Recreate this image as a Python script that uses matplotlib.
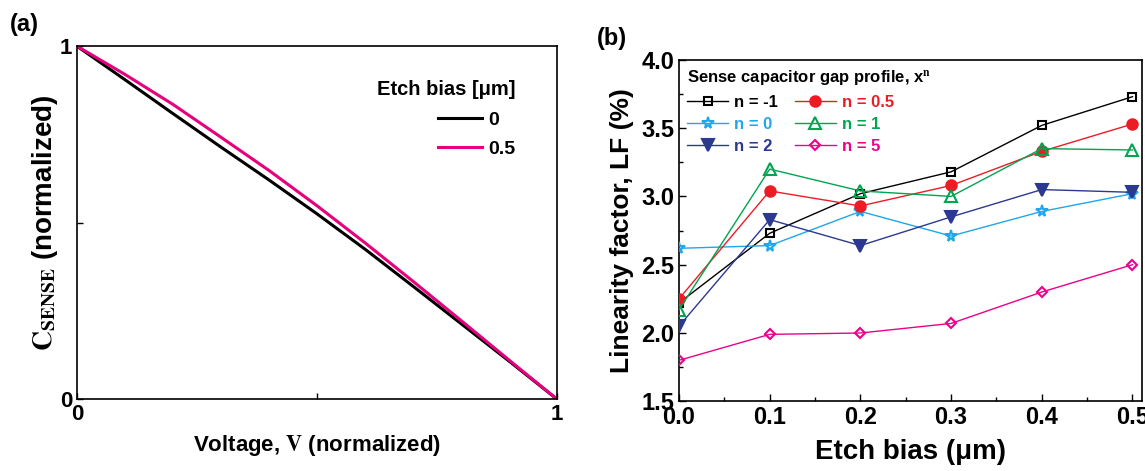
import numpy as np
import matplotlib.pyplot as plt
from matplotlib.ticker import MultipleLocator

plt.rcParams["font.family"] = ["Liberation Sans", "DejaVu Sans"]
plt.rcParams["font.weight"] = "bold"
plt.rcParams["mathtext.fontset"] = "stix"

# panel (a): normalized capacitance vs voltage
volt = [0.0, 0.1, 0.2, 0.3, 0.4, 0.5, 0.6, 0.7, 0.8, 0.9, 1.0]
c_bias0 = [1.0, 0.905, 0.809, 0.714, 0.621, 0.525, 0.425, 0.320, 0.214, 0.108, 0.0]
c_bias05 = [1.0, 0.920, 0.835, 0.742, 0.648, 0.548, 0.443, 0.334, 0.223, 0.111, 0.0]

# panel (b): linearity factor vs etch bias
etch = [0.0, 0.1, 0.2, 0.3, 0.4, 0.5]
lf_m1 = [2.22, 2.73, 3.02, 3.18, 3.52, 3.73]
lf_05 = [2.25, 3.04, 2.93, 3.08, 3.33, 3.53]
lf_0 = [2.62, 2.64, 2.89, 2.71, 2.89, 3.02]
lf_1 = [2.17, 3.20, 3.04, 3.00, 3.35, 3.34]
lf_2 = [2.05, 2.83, 2.64, 2.85, 3.05, 3.03]
lf_5 = [1.80, 1.99, 2.00, 2.07, 2.30, 2.50]

fig = plt.figure(figsize=(11.45, 4.71), dpi=100)
fig.patch.set_facecolor("white")

# ---- (a)
ax1 = fig.add_axes([0.0672, 0.153, 0.419, 0.749])
ax1.plot(volt, c_bias0, color="black", lw=2.2, label="0")
ax1.plot(volt, c_bias05, color="#e6007e", lw=2.2, label="0.5")
ax1.set_xlim(0, 1)
ax1.set_ylim(0, 1)
ax1.set_xticks([0, 0.5, 1])
ax1.set_xticklabels(["0", "", "1"])
ax1.set_yticks([0, 0.5, 1])
ax1.set_yticklabels(["0", "", "1"])
ax1.tick_params(direction="in", labelsize=16, length=4, width=1)
for s in ax1.spines.values():
    s.set_linewidth(1.2)
ax1.set_xlabel(r"Voltage, $\mathrm{V}$ (normalized)", fontsize=16, fontweight="bold", labelpad=6)
ax1.set_ylabel(r"$\mathrm{C_{SENSE}}$ (normalized)", fontsize=20, fontweight="bold", labelpad=0)
leg1 = ax1.legend(title="Etch bias [μm]", loc="upper right", bbox_to_anchor=(0.93, 0.925),
                  frameon=False, fontsize=14, title_fontsize=14.5, handlelength=2.3,
                  handletextpad=0.3, labelspacing=0.6, borderaxespad=0, alignment="right")
leg1.get_title().set_fontweight("bold")

fig.text(0.009, 0.935, "(a)", fontsize=17, fontweight="bold")

# ---- (b)
ax2 = fig.add_axes([0.593, 0.148, 0.404, 0.725])
series = [
    (lf_m1, "n = -1", "black", "s", "none", 5.8),
    (lf_0, "n = 0", "#1ea7ec", "*", "none", 8.5),
    (lf_2, "n = 2", "#2b3990", "v", "#2b3990", 8.5),
    (lf_05, "n = 0.5", "#ed1c24", "o", "#ed1c24", 7.5),
    (lf_1, "n = 1", "#00a550", "^", "none", 8.5),
    (lf_5, "n = 5", "#ec008c", "D", "none", 5.5),
]
handles = []
for vals, lab, col, mk, fc, ms in series:
    h, = ax2.plot(etch, vals, color=col, lw=1.0, marker=mk, ms=ms,
                  mfc=fc, mec=col, mew=1.5, label=lab, zorder=3)
    handles.append(h)
ax2.set_xlim(0, 0.51)
ax2.set_ylim(1.5, 4.0)
ax2.xaxis.set_major_locator(MultipleLocator(0.1))
ax2.xaxis.set_minor_locator(MultipleLocator(0.05))
ax2.yaxis.set_major_locator(MultipleLocator(0.5))
ax2.yaxis.set_minor_locator(MultipleLocator(0.25))
ax2.tick_params(which="both", direction="in", labelsize=17, width=1)
ax2.tick_params(which="major", length=5)
ax2.tick_params(which="minor", length=3)
ax2.xaxis.set_major_formatter(plt.FuncFormatter(lambda v, p: f"{v:.1f}"))
ax2.yaxis.set_major_formatter(plt.FuncFormatter(lambda v, p: f"{v:.1f}"))
for s in ax2.spines.values():
    s.set_linewidth(1.2)
ax2.set_xlabel("Etch bias (μm)", fontsize=20, fontweight="bold", labelpad=7)
ax2.set_ylabel("Linearity factor, LF (%)", fontsize=19, fontweight="bold", labelpad=5)

leg2 = ax2.legend(handles=handles, ncol=2, loc="upper left", frameon=False,
                  title=r"Sense capacitor gap profile, x$^{\mathrm{n}}$",
                  fontsize=12, title_fontsize=12, handlelength=2.45,
                  handletextpad=0.36, columnspacing=1.0, labelspacing=0.42,
                  borderaxespad=0.1, alignment="left")
leg2.get_title().set_fontweight("bold")
for txt, h in zip(leg2.get_texts(), handles):
    txt.set_color(h.get_color())

fig.text(0.521, 0.905, "(b)", fontsize=17, fontweight="bold")

fig.savefig("out.png", dpi=100)
